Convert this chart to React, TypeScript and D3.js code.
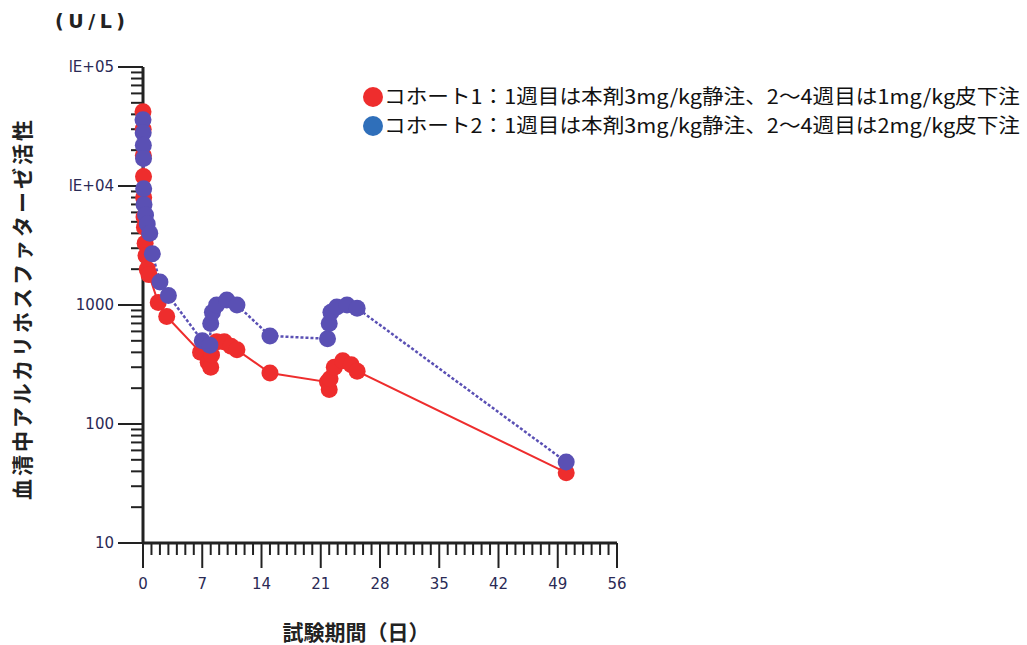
import * as d3 from 'd3';

// cohort 1 (red) — days and U/L values
const c1Days = [0, 0.02, 0.04, 0.06, 0.08, 0.12, 0.17, 0.25, 0.35, 0.5, 0.7, 1.8, 2.8, 6.8, 7.7, 8, 8.1, 8.7, 9.6, 10.4, 11.1, 15, 21.8, 22, 22.1, 22.6, 23.6, 24.6, 25.3, 50];
const c1Values = [42000, 30000, 18000, 12000, 8000, 5500, 4500, 3300, 2600, 2000, 1800, 1050, 800, 400, 330, 300, 380, 490, 490, 450, 420, 268, 225, 195, 240, 300, 340, 315, 278, 39];

// cohort 2 (blue)
const c2Days = [0, 0.02, 0.04, 0.06, 0.08, 0.12, 0.3, 0.5, 0.8, 1.1, 2, 3, 7, 7.9, 8.0, 8.2, 8.7, 9.9, 11.1, 15, 21.8, 22, 22.2, 22.9, 24.1, 25.3, 50];
const c2Values = [36000, 28000, 22000, 17000, 9500, 7000, 5700, 4800, 4000, 2700, 1560, 1200, 500, 460, 700, 870, 1000, 1100, 1000, 550, 520, 700, 870, 960, 1000, 940, 48];

const xTicks = [0, 7, 14, 21, 28, 35, 42, 49, 56];
const yTicks = [10, 100, 1000, 10000, 100000];
const yTickLabels = ['10', '100', '1000', 'lE+04', 'lE+05'];

const legendLabels = [
  'コホート1：1週目は本剤3mg/kg静注、2～4週目は1mg/kg皮下注',
  'コホート2：1週目は本剤3mg/kg静注、2～4週目は2mg/kg皮下注',
];

const RED = '#ee2d2d';
const BLUE = '#5a50b4';
const LEGEND_BLUE = '#2f6fba';

export default function App() {
  const x = d3.scaleLinear().domain([0, 56]).range([143, 617]);
  const y = d3.scaleLog().domain([10, 100000]).range([543, 67]);

  const line = d3.line<[number, number]>()
    .x(d => x(d[0]))
    .y(d => y(d[1]));

  const s1 = c1Days.map((d, i) => [d, c1Values[i]] as [number, number]);
  const s2 = c2Days.map((d, i) => [d, c2Values[i]] as [number, number]);

  // minor ticks
  const xMinor = d3.range(0, 57).filter(d => d % 7 !== 0);
  const yMinor: number[] = [];
  for (let p = 10; p < 100000; p *= 10) {
    for (let k = 2; k <= 9; k++) yMinor.push(p * k);
  }

  const x0 = x(0);
  const yBase = y(10);
  const tickFont = 'DejaVu Sans, Verdana, sans-serif';

  return (
    <svg width={1027} height={645} style={{ position: 'absolute', left: 0, top: 0, background: '#fff' }}>
      {/* unit */}
      <text x={55} y={28} fontSize={19} fontWeight="bold" fontFamily={tickFont} fill="#222" textLength={70} lengthAdjust="spacing">(U/L)</text>

      {/* y title */}
      <text
        transform={`translate(30,${310}) rotate(-90)`}
        textAnchor="middle"
        fontSize={21}
        fontWeight="bold"
        fontFamily="Noto Sans CJK JP"
        fill="#222"
        textLength={380}
        lengthAdjust="spacing"
      >血清中アルカリホスファターゼ活性</text>

      {/* x title */}
      <text x={356} y={640} textAnchor="middle" fontSize={21} fontWeight="bold" fontFamily="Noto Sans CJK JP" fill="#222">試験期間（日）</text>

      {/* y ticks */}
      {yMinor.map(v => (
        <line key={'ym' + v} x1={x0 - 12} x2={x0} y1={y(v)} y2={y(v)} stroke="#222" strokeWidth={2} />
      ))}
      {yTicks.map((v, i) => (
        <g key={'y' + v}>
          <line x1={x0 - 25} x2={x0} y1={y(v)} y2={y(v)} stroke="#222" strokeWidth={2} />
          <text x={x0 - 29} y={y(v) + 5} textAnchor="end" fontSize={15} fontFamily={tickFont} fill="#2a2a55">{yTickLabels[i]}</text>
        </g>
      ))}

      {/* x ticks */}
      {xMinor.map(d => (
        <line key={'xm' + d} x1={x(d)} x2={x(d)} y1={yBase} y2={yBase + 12} stroke="#222" strokeWidth={2} />
      ))}
      {xTicks.map(d => (
        <g key={'x' + d}>
          <line x1={x(d)} x2={x(d)} y1={yBase} y2={yBase + 25} stroke="#222" strokeWidth={2} />
          <text x={x(d)} y={yBase + 46} textAnchor="middle" fontSize={15} fontFamily={tickFont} fill="#2a2a55">{d}</text>
        </g>
      ))}

      {/* axes */}
      <line x1={x0} x2={x0} y1={y(100000)} y2={yBase + 1} stroke="#222" strokeWidth={3} />
      <line x1={x0} x2={x(56)} y1={yBase} y2={yBase} stroke="#222" strokeWidth={3} />

      {/* series lines */}
      <path d={line(s1) || ''} fill="none" stroke={RED} strokeWidth={2} />
      <path d={line(s2) || ''} fill="none" stroke={BLUE} strokeWidth={2.5} strokeDasharray="3,2" />

      {/* markers */}
      {s1.map((d, i) => (
        <circle key={'r' + i} cx={x(d[0])} cy={y(d[1])} r={8.5} fill={RED} />
      ))}
      {s2.map((d, i) => (
        <circle key={'b' + i} cx={x(d[0])} cy={y(d[1])} r={8.5} fill={BLUE} />
      ))}

      {/* legend */}
      {legendLabels.map((t, i) => (
        <g key={'lg' + i}>
          <circle cx={373} cy={97 + i * 29} r={10} fill={i === 0 ? RED : LEGEND_BLUE} />
          <text x={384} y={104 + i * 29} fontSize={20} fontFamily="Noto Sans CJK JP" fill="#111" textLength={636} lengthAdjust="spacingAndGlyphs">{t}</text>
        </g>
      ))}
    </svg>
  );
}
